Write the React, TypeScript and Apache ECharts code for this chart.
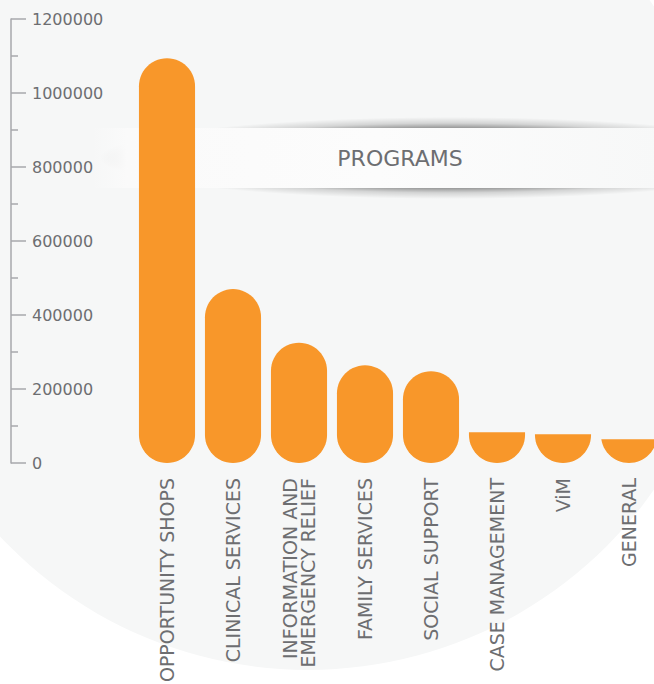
import React, { useEffect, useRef } from "react";
import * as echarts from "echarts";

const categories: string[] = [
  "OPPORTUNITY SHOPS",
  "CLINICAL SERVICES",
  "INFORMATION AND\nEMERGENCY RELIEF",
  "FAMILY SERVICES",
  "SOCIAL SUPPORT",
  "CASE MANAGEMENT",
  "ViM",
  "GENERAL",
];
const amounts: number[] = [1094000, 470000, 325000, 264000, 248000, 83000, 78000, 64000];
const yTickValues: number[] = [0, 200000, 400000, 600000, 800000, 1000000, 1200000];
const bannerTitle = "PROGRAMS";

const BAR_COLOR = "#f8972a";
const TEXT_COLOR = "#6d6e71";
const FONT = "DejaVu Sans";

export default function App() {
  const ref = useRef<HTMLDivElement>(null);

  useEffect(() => {
    if (!ref.current) return;
    const chart = echarts.init(ref.current, undefined, { renderer: "svg" });

    const renderItem = (params: any, api: any) => {
      const v = api.value(1);
      const idx = api.value(0);
      const top = api.coord([idx, v]);
      const base = api.coord([idx, 0]);
      const cx = top[0];
      const yTop = top[1];
      const yBase = base[1];
      const w = api.size([1, 0])[0] * 0.85;
      const r = w / 2;
      const N = 28;
      const pts: number[][] = [];
      const h = yBase - yTop;
      if (h >= 2 * r) {
        const cyT = yTop + r;
        for (let i = 0; i <= N; i++) {
          const t = Math.PI + (Math.PI * i) / N;
          pts.push([cx + r * Math.cos(t), cyT + r * Math.sin(t)]);
        }
        const cyB = yBase - r;
        for (let i = 0; i <= N; i++) {
          const t = (Math.PI * i) / N;
          pts.push([cx + r * Math.cos(t), cyB + r * Math.sin(t)]);
        }
      } else {
        const cyB = yBase - r;
        if (yTop <= cyB) {
          pts.push([cx + r, yTop]);
          for (let i = 0; i <= N; i++) {
            const t = (Math.PI * i) / N;
            pts.push([cx + r * Math.cos(t), cyB + r * Math.sin(t)]);
          }
          pts.push([cx - r, yTop]);
        } else {
          const a = Math.asin(Math.min(1, (yTop - cyB) / r));
          for (let i = 0; i <= N; i++) {
            const t = a + ((Math.PI - 2 * a) * i) / N;
            pts.push([cx + r * Math.cos(t), cyB + r * Math.sin(t)]);
          }
        }
      }
      return {
        type: "polygon",
        shape: { points: pts },
        style: { fill: BAR_COLOR },
      };
    };

    chart.setOption({
      animation: false,
      backgroundColor: "#ffffff",
      grid: {
        left: 134,
        top: 19,
        width: 528,
        height: 444,
        containLabel: false,
        outerBoundsMode: "none",
      },
      xAxis: {
        type: "category",
        data: categories,
        axisLine: { show: false },
        axisTick: { show: false },
        axisLabel: {
          interval: 0,
          rotate: 90,
          margin: 15,
          color: TEXT_COLOR,
          fontFamily: FONT,
          fontSize: 19,
          lineHeight: 18,
        },
      },
      yAxis: {
        type: "value",
        min: 0,
        max: yTickValues[yTickValues.length - 1],
        interval: yTickValues[1] - yTickValues[0],
        offset: 123,
        splitLine: { show: false },
        axisLine: { show: true, lineStyle: { color: "#a7a9ac", width: 1.5 } },
        axisTick: { show: true, inside: true, length: 15, lineStyle: { color: "#a7a9ac", width: 1.5 } },
        minorTick: { show: true, splitNumber: 2, length: 7, lineStyle: { color: "#a7a9ac", width: 1.5 } },
        axisLabel: {
          inside: true,
          margin: 21,
          color: TEXT_COLOR,
          fontFamily: FONT,
          fontSize: 16,
          formatter: (v: number) => String(v),
        },
      },
      series: [
        {
          type: "custom",
          renderItem,
          encode: { x: 0, y: 1 },
          data: categories.map((c, i) => [i, amounts[i]]),
          z: 5,
        },
      ],
      graphic: [
        {
          type: "circle",
          z: -10,
          silent: true,
          shape: { cx: 308, cy: 248, r: 422 },
          style: { fill: "#f6f7f7" },
        },
        {
          type: "group",
          z: 100,
          silent: true,
          children: [
            {
              type: "ellipse",
              shape: { cx: 450, cy: 158, rx: 350, ry: 41 },
              style: {
                fill: new echarts.graphic.RadialGradient(0.5, 0.5, 0.5, [
                  { offset: 0, color: "rgba(0,0,0,0.55)" },
                  { offset: 0.7, color: "rgba(0,0,0,0.45)" },
                  { offset: 0.85, color: "rgba(0,0,0,0.14)" },
                  { offset: 1, color: "rgba(0,0,0,0)" },
                ]),
              },
            },
            {
              type: "rect",
              shape: { x: 92, y: 128, width: 570, height: 60 },
              style: {
                fill: new echarts.graphic.LinearGradient(0, 0, 1, 0, [
                  { offset: 0, color: "rgba(250,250,250,0)" },
                  { offset: 0.06, color: "rgba(250,250,250,1)" },
                  { offset: 0.5, color: "rgba(252,252,252,1)" },
                  { offset: 1, color: "rgba(247,248,248,1)" },
                ]),
              },
            },
            {
              type: "text",
              x: 400,
              y: 158,
              style: {
                text: bannerTitle,
                fill: TEXT_COLOR,
                font: `22px "${FONT}"`,
                align: "center",
                verticalAlign: "middle",
              },
            },
          ],
        },
      ],
    });

    return () => chart.dispose();
  }, []);

  return (
    <div
      ref={ref}
      style={{ position: "absolute", left: 0, top: 0, width: 654, height: 684, overflow: "hidden" }}
    />
  );
}
